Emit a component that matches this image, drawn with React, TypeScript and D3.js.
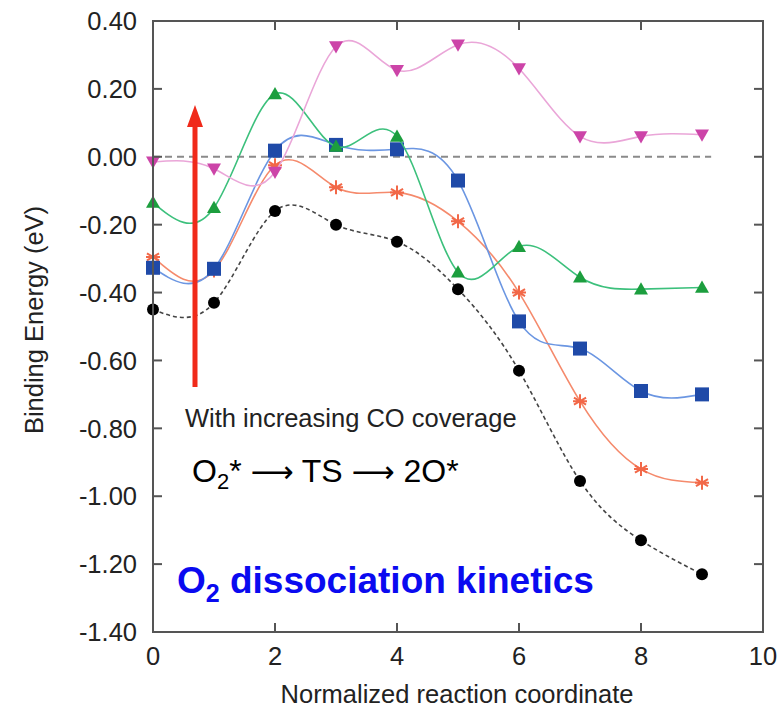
import React from "react";
import * as d3 from "d3";

// Reaction coordinate (categories)
const reactionCoord = [0, 1, 2, 3, 4, 5, 6, 7, 8, 9];

// Series values (eV)
const seriesBlack = [-0.45, -0.43, -0.16, -0.2, -0.25, -0.39, -0.63, -0.955, -1.13, -1.23];
const seriesOrange = [-0.295, -0.335, -0.025, -0.09, -0.105, -0.19, -0.4, -0.72, -0.92, -0.96];
const seriesBlue = [-0.327, -0.33, 0.018, 0.035, 0.022, -0.07, -0.485, -0.565, -0.69, -0.7];
const seriesGreen = [-0.135, -0.15, 0.185, 0.03, 0.06, -0.34, -0.265, -0.355, -0.39, -0.385];
const seriesPink = [-0.015, -0.035, -0.045, 0.325, 0.255, 0.33, 0.26, 0.06, 0.06, 0.065];

// Tick values / labels
const yTicks = [0.4, 0.2, 0.0, -0.2, -0.4, -0.6, -0.8, -1.0, -1.2, -1.4];
const xTicks = [0, 2, 4, 6, 8, 10];

const W = 784;
const H = 709;
const L = 153, R = 763, T = 21, B = 632;
const FONT = "'Liberation Sans', Arial, Helvetica, sans-serif";
const ARROWFONT = "'DejaVu Sans', sans-serif";

const x = d3.scaleLinear().domain([0, 10]).range([L, R]);
const y = d3.scaleLinear().domain([-1.4, 0.4]).range([B, T]);

const line = d3
  .line<number>()
  .x((_, i) => x(reactionCoord[i]))
  .y((d) => y(d))
  .curve(d3.curveNatural);

type Marker = "circle" | "star" | "square" | "tri" | "itri";

function MarkerShape({ kind, cx, cy, color }: { kind: Marker; cx: number; cy: number; color: string }) {
  if (kind === "circle") return <circle cx={cx} cy={cy} r={6} fill={color} />;
  if (kind === "square") return <rect x={cx - 7} y={cy - 7} width={14} height={14} fill={color} />;
  if (kind === "tri") {
    const s = 7;
    return <path d={`M${cx},${cy - s}L${cx + s},${cy + s * 0.75}L${cx - s},${cy + s * 0.75}Z`} fill={color} />;
  }
  if (kind === "itri") {
    const s = 7;
    return <path d={`M${cx},${cy + s}L${cx + s},${cy - s * 0.75}L${cx - s},${cy - s * 0.75}Z`} fill={color} />;
  }
  const r = 7;
  const arms = [0, 60, 120].map((a) => {
    const rad = (a * Math.PI) / 180;
    const dx = r * Math.sin(rad), dy = r * Math.cos(rad);
    return `M${cx - dx},${cy - dy}L${cx + dx},${cy + dy}`;
  });
  arms.push(`M${cx - r},${cy}L${cx + r},${cy}`);
  return <path d={arms.join("")} stroke={color} strokeWidth={2} fill="none" />;
}

const series: { data: number[]; line: string; mark: string; kind: Marker; dash?: string }[] = [
  { data: seriesBlack, line: "#444444", mark: "#000000", kind: "circle", dash: "4,3" },
  { data: seriesOrange, line: "#f58a6c", mark: "#f26848", kind: "star" },
  { data: seriesBlue, line: "#6b96e2", mark: "#1f4aa8", kind: "square" },
  { data: seriesGreen, line: "#3cc07c", mark: "#1c9e3e", kind: "tri" },
  { data: seriesPink, line: "#eaa6d8", mark: "#cc44a8", kind: "itri" },
];

export default function App() {
  const arrowX = L + 42;
  return (
    <svg width={W} height={H} style={{ position: "absolute", left: 0, top: 0, background: "#fff" }}>
      <rect x={0} y={0} width={W} height={H} fill="#ffffff" />
      <line x1={x(0)} x2={x(9.15)} y1={y(0)} y2={y(0)} stroke="#8a8a8a" strokeWidth={2} strokeDasharray="7,5" />

      {series.map((s, i) => (
        <g key={i}>
          <path d={line(s.data) || ""} fill="none" stroke={s.line} strokeWidth={1.6} strokeDasharray={s.dash} />
          {s.data.map((v, j) => (
            <MarkerShape key={j} kind={s.kind} cx={x(reactionCoord[j])} cy={y(v)} color={s.mark} />
          ))}
        </g>
      ))}

      <line x1={arrowX} x2={arrowX} y1={387} y2={122} stroke="#f02a1a" strokeWidth={5} />
      <path d={`M${arrowX},105L${arrowX + 8},127L${arrowX - 8},127Z`} fill="#f02a1a" />

      <rect x={L} y={T} width={R - L} height={B - T} fill="none" stroke="#555" strokeWidth={2} />

      {yTicks.map((t) => (
        <g key={"y" + t}>
          <line x1={L} x2={L + 9} y1={y(t)} y2={y(t)} stroke="#555" strokeWidth={2} />
          <line x1={R} x2={R - 9} y1={y(t)} y2={y(t)} stroke="#555" strokeWidth={2} />
          <text x={137} y={y(t)} dy="0.36em" textAnchor="end" fontSize={25.5} fontFamily={FONT} fill="#222">
            {t.toFixed(2)}
          </text>
        </g>
      ))}
      {xTicks.map((t) => (
        <g key={"x" + t}>
          <line x1={x(t)} x2={x(t)} y1={B} y2={B - 9} stroke="#555" strokeWidth={2} />
          <line x1={x(t)} x2={x(t)} y1={T} y2={T + 9} stroke="#555" strokeWidth={2} />
          <text x={x(t)} y={665} textAnchor="middle" fontSize={25.5} fontFamily={FONT} fill="#222">
            {t}
          </text>
        </g>
      ))}

      <text x={457} y={703} textAnchor="middle" fontSize={25.5} fontFamily={FONT} fill="#222">
        Normalized reaction coordinate
      </text>
      <text transform={`translate(43,320) rotate(-90)`} textAnchor="middle" fontSize={25.5} fontFamily={FONT} fill="#222">
        Binding Energy (eV)
      </text>

      <text x={185} y={427} fontSize={25.5} fontFamily={FONT} fill="#222">
        With increasing CO coverage
      </text>
      <text x={192} y={482} fontSize={32} fontFamily={FONT} fill="#000">
        O<tspan fontSize={22} dy={7}>2</tspan>
        <tspan dy={-7}>* </tspan>
        <tspan fontFamily={ARROWFONT} fontSize={30}>⟶</tspan>
        <tspan> TS </tspan>
        <tspan fontFamily={ARROWFONT} fontSize={30}>⟶</tspan>
        <tspan> 2O*</tspan>
      </text>
      <text x={177} y={593} fontSize={37} fontWeight="bold" fontFamily={FONT} fill="#0a0af0">
        O<tspan fontSize={25} dy={9}>2</tspan>
        <tspan dy={-9}> dissociation kinetics</tspan>
      </text>
    </svg>
  );
}
